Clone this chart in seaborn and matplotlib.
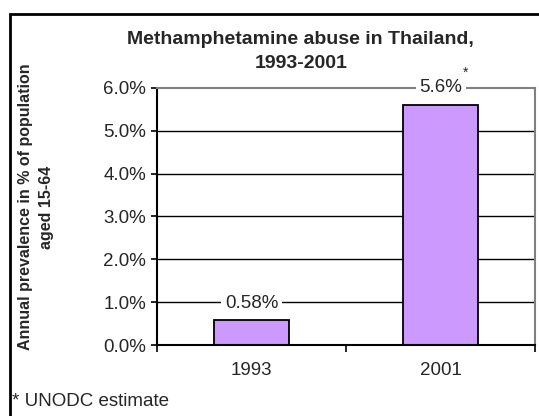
import numpy as np
import pandas as pd
import matplotlib
matplotlib.use('Agg')
import matplotlib.pyplot as plt
from matplotlib.patches import Rectangle
import seaborn as sns

sns.set_theme(style='white')
plt.rcParams['font.family'] = ['Liberation Sans', 'DejaVu Sans']

years = ['1993', '2001']
prevalence = [0.58, 5.6]
bar_labels = ['0.58%', '5.6%']
yticks = [0, 1, 2, 3, 4, 5, 6]
ytick_labels = ['0.0%', '1.0%', '2.0%', '3.0%', '4.0%', '5.0%', '6.0%']

df = pd.DataFrame({'year': years, 'value': prevalence})

W, H = 539, 416
fig = plt.figure(figsize=(W / 100, H / 100), dpi=100)
ax = fig.add_axes([157 / W, 71 / H, 378 / W, 257 / H])

# gridlines behind bars
for t in yticks[1:-1]:
    ax.axhline(t, color='black', lw=1.0, zorder=0)

sns.barplot(data=df, x='year', y='value', color='#CC99FF', width=0.4,
            edgecolor='black', linewidth=1.3, saturation=1, ax=ax, zorder=2)

ax.set_xlim(-0.5, 1.5)
ax.set_ylim(0, 6)
ax.set_yticks(yticks)
ax.set_yticklabels(ytick_labels, fontsize=13.5)
ax.set_xticks([0, 1])
ax.set_xticklabels(years, fontsize=13.5)
ax.set_xticks([-0.5, 0.5, 1.5], minor=True)
ax.tick_params(axis='x', which='major', length=0, pad=12)
ax.tick_params(axis='x', which='minor', length=5, width=1.2, color='black', direction='out', bottom=True)
ax.tick_params(axis='y', length=4.5, width=1.2, color='black', direction='out', left=True, pad=3.5)
ax.set_xlabel('')
ax.set_ylabel('')

for s in ['left', 'bottom']:
    ax.spines[s].set_color('black')
    ax.spines[s].set_linewidth(1.5)
for s in ['top', 'right']:
    ax.spines[s].set_color('#808080')
    ax.spines[s].set_linewidth(1.5)

# value labels
for i, (v, lab) in enumerate(zip(prevalence, bar_labels)):
    ax.text(i, v + 0.4, lab, ha='center', va='center', fontsize=13.5,
            bbox=dict(facecolor='white', edgecolor='none', pad=2.5), zorder=5, clip_on=False)
ax.text(1.135, 6.36, '*', ha='center', va='center', fontsize=10, zorder=6)

# title, two lines
fig.text(300 / W, 1 - 40 / H, 'Methamphetamine abuse in Thailand,',
         ha='center', va='center', fontsize=14, fontweight='bold')
fig.text(301 / W, 1 - 64 / H, '1993-2001',
         ha='center', va='center', fontsize=14, fontweight='bold')
fig.text(36 / W, 1 - 207 / H, 'Annual prevalence in % of population\naged 15-64',
         ha='center', va='center', rotation=90, fontsize=11.5, fontweight='bold',
         linespacing=1.55)
fig.text(12 / W, 1 - 402 / H, '* UNODC estimate', ha='left', va='center', fontsize=13.5)

# outer chart frame (cut at right/bottom)
fig.patches.append(Rectangle((10 / W, -0.1), 1.2, 1 - 14 / H + 0.1, transform=fig.transFigure,
                             fill=False, edgecolor='black', lw=2))

fig.savefig('out.png', dpi=100)
